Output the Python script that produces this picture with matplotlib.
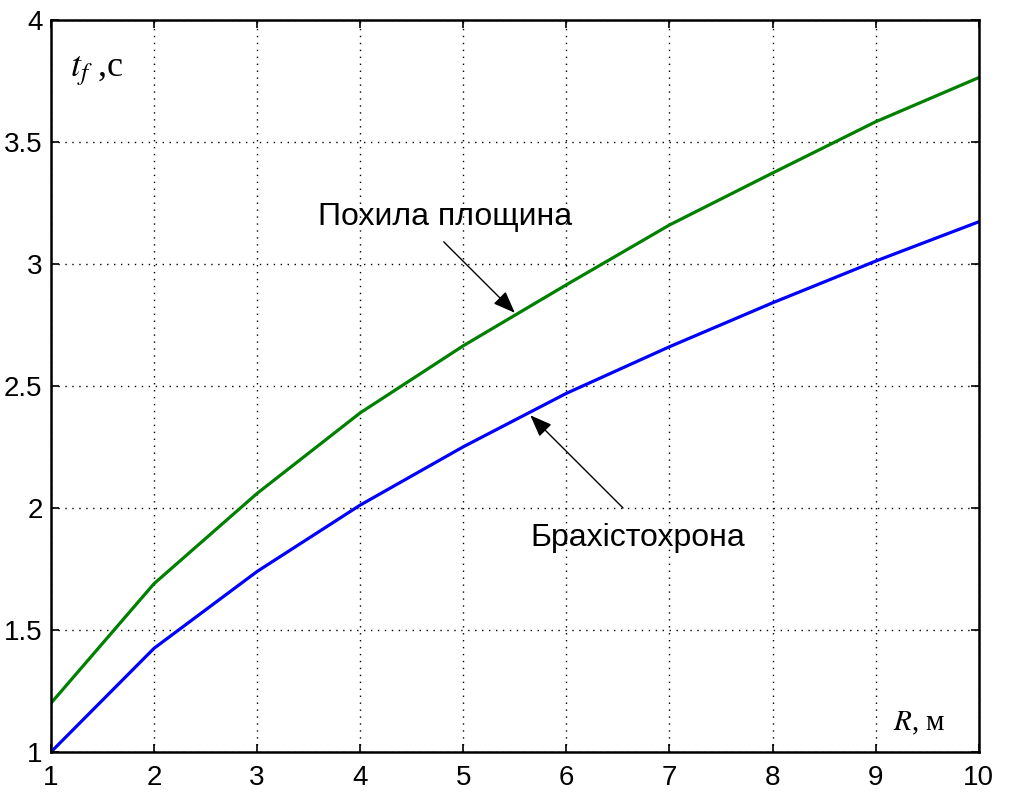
import matplotlib
matplotlib.use("Agg")
import matplotlib.pyplot as plt

R = [1, 2, 3, 4, 5, 6, 7, 8, 9, 10]
t_plane = [1.20, 1.69, 2.06, 2.39, 2.665, 2.915, 3.16, 3.373, 3.583, 3.764]
t_brach = [1.00, 1.425, 1.74, 2.012, 2.251, 2.47, 2.661, 2.841, 3.012, 3.173]
xticks = [1, 2, 3, 4, 5, 6, 7, 8, 9, 10]
yticks = [1, 1.5, 2, 2.5, 3, 3.5, 4]
ytick_labels = ["1", "1.5", "2", "2.5", "3", "3.5", "4"]

plt.rcParams['font.family'] = ['Liberation Sans', 'DejaVu Sans']
plt.rcParams['mathtext.fontset'] = 'stix'

fig = plt.figure(figsize=(10.09, 7.92), dpi=100)
ax = fig.add_axes([0.0505, 0.0505, 0.9195, 0.9242])

ax.plot(R, t_plane, color='#008000', lw=2.3, solid_joinstyle='round')
ax.plot(R, t_brach, color='#0000ff', lw=2.3, solid_joinstyle='round')

ax.set_xlim(1, 10)
ax.set_ylim(1, 4)
ax.set_xticks(xticks)
ax.set_yticks(yticks)
ax.set_yticklabels(ytick_labels)
ax.tick_params(direction='in', length=6, width=1.2, labelsize=20,
               top=True, right=True)
ax.tick_params(axis='x', pad=9)
ax.tick_params(axis='y', pad=6)
for s in ax.spines.values():
    s.set_linewidth(1.8)
ax.grid(True, color='black', linestyle=(0, (1, 4)), linewidth=1.0)

arrow = dict(arrowstyle='-|>,head_length=0.9,head_width=0.35',
             color='black', lw=1.0, shrinkA=0, shrinkB=0, mutation_scale=15)

ax.text(4.82, 3.194, 'Похила площина', ha='center', va='center', fontsize=23)
ax.annotate('', xy=(5.50, 2.80), xytext=(4.81, 3.091), arrowprops=arrow)

ax.text(6.69, 1.877, 'Брахістохрона', ha='center', va='center', fontsize=23)
ax.annotate('', xy=(5.65, 2.38), xytext=(6.55, 2.0), arrowprops=arrow)

ax.text(1.18, 3.77, r'$t_f$ ,с', fontsize=26, family='Liberation Serif',
        ha='left', va='baseline')
ax.text(9.17, 1.09, r'$R$, м', fontsize=21, family='Liberation Serif',
        ha='left', va='baseline')

fig.savefig('out.png', dpi=100)
